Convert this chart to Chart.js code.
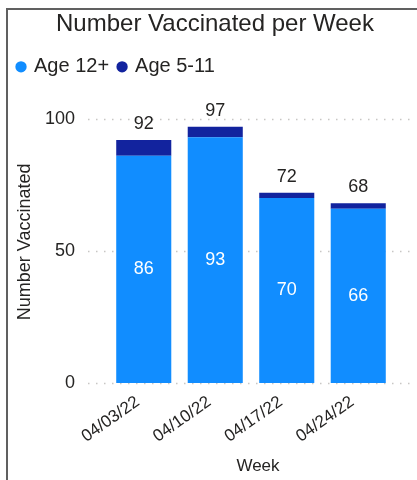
<!DOCTYPE html>
<html>
<head>
<meta charset="utf-8">
<script src="https://cdn.jsdelivr.net/npm/chart.js@4.4.1/dist/chart.umd.min.js"></script>
<style>
html, body { margin: 0; padding: 0; background: #fff; }
#wrap { position: absolute; left: 0; top: 0; width: 417px; height: 480px; }
#frame { position: absolute; left: 6px; top: 8px; width: 420px; height: 480px;
         border-left: 2px solid #606060; border-top: 2px solid #606060; pointer-events: none; }
</style>
</head>
<body>
<div id="wrap"><canvas id="myChart"></canvas></div>
<div id="frame"></div>
<script>
const weeks = ['04/03/22', '04/10/22', '04/17/22', '04/24/22'];
const age12Plus = [86, 93, 70, 66];
const age5to11 = [6, 4, 2, 2];
const yTickStep = 50;
const yMax = 100;

const FONT = "'Liberation Sans', Arial, sans-serif";
const TEXT = '#252423';

// dotted gridlines, a bit wider than the plot like Power BI does
const gridPlugin = {
    id: 'dottedGrid',
    beforeDatasetsDraw(chart) {
        const ctx = chart.ctx, y = chart.scales.y, area = chart.chartArea;
        ctx.save();
        ctx.strokeStyle = '#C8C6C4';
        ctx.lineWidth = 1.5;
        ctx.setLineDash([1.5, 6.5]);
        y.ticks.forEach(t => {
            const py = Math.round(y.getPixelForValue(t.value)) + 0.5;
            ctx.beginPath();
            ctx.moveTo(area.left - 20, py);
            ctx.lineTo(area.right + 16, py);
            ctx.stroke();
        });
        ctx.restore();
    }
};

// value labels: white inside the Age 12+ part, total on top
const labelPlugin = {
    id: 'barLabels',
    afterDatasetsDraw(chart) {
        const ctx = chart.ctx;
        const low = chart.getDatasetMeta(0).data;
        const top = chart.getDatasetMeta(1).data;
        ctx.save();
        ctx.font = '18px ' + FONT;
        ctx.textAlign = 'center';
        ctx.textBaseline = 'middle';
        low.forEach((bar, i) => {
            ctx.fillStyle = '#ffffff';
            ctx.fillText(age12Plus[i], bar.x, (bar.y + bar.base) / 2);
            ctx.fillStyle = TEXT;
            ctx.fillText(age12Plus[i] + age5to11[i], top[i].x, top[i].y - 16);
        });
        ctx.restore();
    }
};

// shift a drawing method by dx, dy
function nudge(obj, name, dx, dy) {
    if (obj['_nudged_' + name]) return;
    const orig = obj[name];
    obj[name] = function (...args) {
        this.ctx.save();
        this.ctx.translate(dx, dy);
        orig.apply(this, args);
        this.ctx.restore();
    };
    obj['_nudged_' + name] = true;
}

// push plot down below the legend, nudge the title to the visual centre
const layoutTweaks = {
    id: 'layoutTweaks',
    beforeInit(chart) {
        const fit = chart.legend.fit;
        chart.legend.fit = function () {
            fit.bind(chart.legend)();
            this.height = 72;
        };
        nudge(chart.titleBlock, 'draw', 14, 0);
    }
};

const data = {
    labels: weeks,
    datasets: [{
        label: 'Age 12+',
        data: age12Plus,
        backgroundColor: '#118DFF',
        borderWidth: 0,
        barPercentage: 0.77,
        categoryPercentage: 1
    }, {
        label: 'Age 5-11',
        data: age5to11,
        backgroundColor: '#12239E',
        borderWidth: 0,
        barPercentage: 0.77,
        categoryPercentage: 1
    }]
};

const config = {
    type: 'bar',
    data: data,
    options: {
        responsive: true,
        maintainAspectRatio: false,
        animation: false,
        layout: { padding: { left: 8, right: 23, top: 0, bottom: 0 } },
        plugins: {
            title: {
                display: true,
                text: 'Number Vaccinated per Week',
                color: TEXT,
                font: { family: FONT, size: 24, weight: 'normal' },
                padding: { top: 10, bottom: 8 }
            },
            legend: {
                display: true,
                align: 'start',
                labels: {
                    usePointStyle: true,
                    pointStyle: 'circle',
                    boxWidth: 6,
                    boxHeight: 8,
                    padding: 10,
                    color: TEXT,
                    font: { family: FONT, size: 20 }
                }
            },
            tooltip: { enabled: false }
        },
        scales: {
            x: {
                stacked: true,
                grid: { display: false },
                border: { display: false },
                ticks: {
                    color: TEXT,
                    font: { family: FONT, size: 17 },
                    maxRotation: 35,
                    minRotation: 35,
                    labelOffset: -6,
                    padding: 1
                },
                title: {
                    display: true,
                    text: 'Week',
                    color: TEXT,
                    font: { family: FONT, size: 17 },
                    padding: { top: 0, bottom: 3 }
                },
                afterFit(scale) {
                    scale.height = 97;
                    nudge(scale, 'drawTitle', 7, 0);
                }
            },
            y: {
                stacked: true,
                min: 0,
                max: yMax,
                grid: { display: false, drawTicks: false },
                border: { display: false },
                ticks: {
                    stepSize: yTickStep,
                    color: TEXT,
                    font: { family: FONT, size: 18 },
                    padding: 33
                },
                title: {
                    display: true,
                    text: 'Number Vaccinated',
                    color: TEXT,
                    font: { family: FONT, size: 18 },
                    padding: { top: 6, bottom: 0 }
                },
                afterFit(scale) {
                    scale.width = 100;
                    nudge(scale, 'drawTitle', 0, -9);
                }
            }
        }
    },
    plugins: [gridPlugin, labelPlugin, layoutTweaks]
};

const myChart = new Chart(document.getElementById('myChart'), config);
</script>
</body>
</html>
